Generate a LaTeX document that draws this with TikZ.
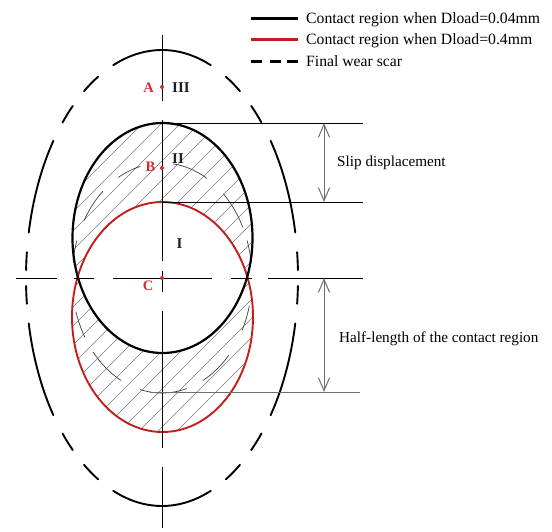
\documentclass[tikz,border=0pt]{standalone}
\usepackage{fontspec}
\setmainfont{Liberation Serif}
\usetikzlibrary{arrows.meta}
\definecolor{ellred}{RGB}{195,30,30}
\definecolor{lblred}{RGB}{215,45,45}
\definecolor{hatchgray}{RGB}{120,120,120}
\definecolor{dimgray}{RGB}{110,110,110}
\definecolor{numcol}{RGB}{30,30,45}
\begin{document}
\begin{tikzpicture}[x=1pt,y=-1pt,
  txt/.style={font=\fontsize{15.2}{18}\selectfont, inner sep=0pt, anchor=base west},
  legtxt/.style={font=\fontsize{15.7}{18}\selectfont, inner sep=0pt, anchor=base west},
  ptlbl/.style={font=\fontsize{14.5}{17}\bfseries\selectfont, text=lblred, inner sep=0pt, anchor=base east},
  numlbl/.style={font=\fontsize{15}{17}\bfseries\selectfont, text=numcol, inner sep=0pt, anchor=base west},
  outerdash/.style={black, line width=1.9pt, line cap=round},
  innerdash/.style={black!75, line width=0.7pt},
  axisline/.style={black, line width=0.9pt},
  dimline/.style={black, line width=0.8pt},
  dimarrow/.style={dimgray, line width=1pt, {Straight Barb[length=13pt,width=11pt]}-{Straight Barb[length=13pt,width=11pt]}},
  hatch/.style={hatchgray, line width=0.6pt},
  dotred/.style={circle, fill=lblred, inner sep=0pt, minimum size=4pt}
]
\useasboundingbox (0,0) rectangle (552,531);

% hatching of the symmetric difference of the two contact regions
\begin{scope}[even odd rule]
  \clip (162.5,238) ellipse [x radius=90, y radius=115]
        (162.5,317) ellipse [x radius=90.5, y radius=115];
  \foreach \c in {171,190,...,703}
    \draw[hatch] (50,{\c-50}) -- (280,{\c-280});
\end{scope}

% thin dashed middle ellipse
\foreach \a/\b in {9/19, 26/47, 60/83, 104/119, 131/150, 161/171, 197/211, 220/243, 256/286, 297/318, 333/346}
  \draw[innerdash] plot[domain=\a:\b, samples=25, smooth] ({162+90*cos(\x)},{278-115*sin(\x)});

% outer dashed ellipse (final wear scar)
\foreach \a/\b in {2/6.5, 11.5/37, 43/49, 55/62, 69/111, 118/125, 131/137, 143/168.5, 173.5/178,
                   182/186.5, 191.5/217, 223/229, 235/242, 249/291, 298/305, 311/317, 323/348.5, 353.5/358}
  \draw[outerdash] plot[domain=\a:\b, samples=30, smooth] ({162+136*cos(\x)},{278-228*sin(\x)});

% contact regions
\draw[ellred, line width=1.9pt] (162.5,317) ellipse [x radius=90.5, y radius=115];
\draw[black, line width=2.2pt] (162.5,238) ellipse [x radius=90, y radius=115];

% centre lines
\foreach \p/\q in {35/101, 120/261, 271/292, 311/448, 467/528}
  \draw[axisline] (162,\p) -- (162,\q);
\foreach \p/\q in {16/57, 74/94, 113/212, 231/252}
  \draw[axisline] (\p,278) -- (\q,278);

% dimension lines
\coordinate (t1a) at (162,123); \coordinate (t1b) at (363,123);
\coordinate (t2a) at (162,202); \coordinate (t2b) at (363,202);
\coordinate (t3a) at (268,278); \coordinate (t3b) at (363,278);
\coordinate (t4a) at (150,392); \coordinate (t4b) at (360,392);
\draw[dimline] (t1a) -- (t1b);
\draw[dimline] (t2a) -- (t2b);
\draw[axisline] (t3a) -- (t3b);
\draw[dimline, dimgray] (t4a) -- (t4b);

\coordinate (s1) at (324,123); \coordinate (s2) at (324,202);
\coordinate (h1) at (324,278); \coordinate (h2) at (324,392);
\draw[dimarrow] (s1) -- (s2);
\draw[dimarrow] (h1) -- (h2);

\node[txt] (slip) at (337,166) {Slip displacement};
\node[txt] (half) at (339,342) {Half-length of the contact region};

% points and zone labels
\node[dotred] (pA) at (162,87) {};
\node[dotred] (pB) at (162,168) {};
\node[dotred] (pC) at (162,278) {};
\node[ptlbl] (lA) at (154,92) {A};
\node[ptlbl] (lB) at (155.5,171) {B};
\node[ptlbl] (lC) at (153.5,290) {C};
\node[numlbl] (z3) at (172,92) {III};
\node[numlbl] (z2) at (172,163) {II};
\node[numlbl] (z1) at (176.5,248) {I};

% legend
\coordinate (l1a) at (251,18); \coordinate (l1b) at (298,18);
\coordinate (l2a) at (251,39.5); \coordinate (l2b) at (298,39.5);
\draw[black, line width=3pt] (l1a) -- (l1b);
\draw[ellred, line width=3pt] (l2a) -- (l2b);
\foreach \p/\q in {251/262, 270/281, 287/298}
  \draw[black, line width=3pt] (\p,61) -- (\q,61);
\node[legtxt] (leg1) at (306,23) {Contact region when Dload=0.04mm};
\node[legtxt] (leg2) at (306,44.5) {Contact region when Dload=0.4mm};
\node[legtxt] (leg3) at (306,66) {Final wear scar};
\end{tikzpicture}
\end{document}
